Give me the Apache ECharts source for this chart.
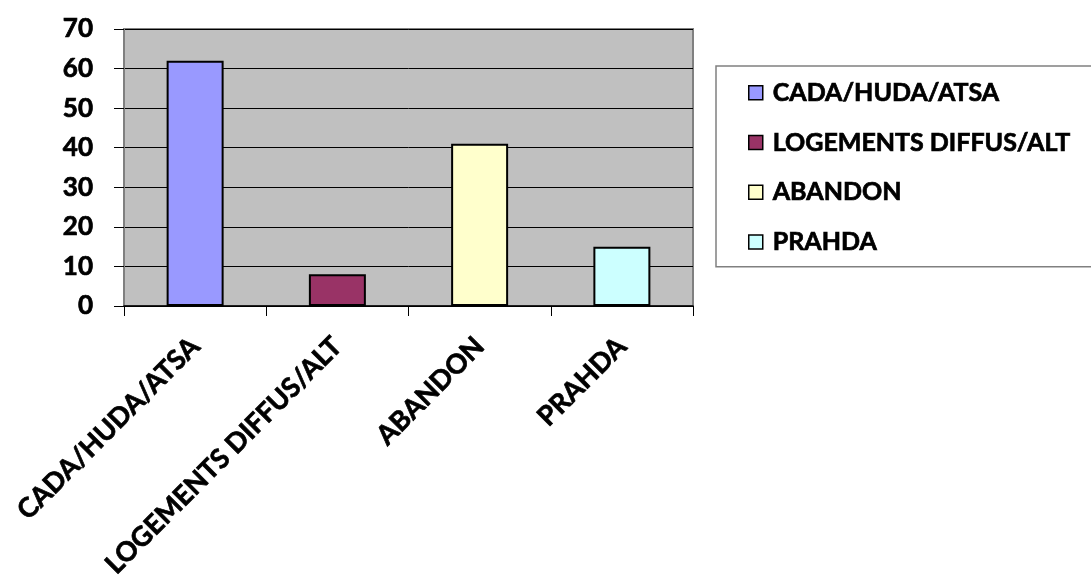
<!DOCTYPE html>
<html>
<head>
<meta charset="utf-8">
<script src="https://cdn.jsdelivr.net/npm/echarts@6/dist/echarts.min.js"></script>
<style>
  html, body { margin: 0; padding: 0; background: #fff; }
  #chart { width: 1091px; height: 579px; }
</style>
</head>
<body>
<div id="chart"></div>
<script>
// Categories, values and fill colours of the bars
const categories = ['CADA/HUDA/ATSA', 'LOGEMENTS DIFFUS/ALT', 'ABANDON', 'PRAHDA'];
const values = [62, 8, 41, 15];
const colors = ['#9999FF', '#993366', '#FFFFCC', '#CCFFFF'];
const yTicks = [0, 10, 20, 30, 40, 50, 60, 70];

const FONT = 'Lato, "Open Sans", sans-serif';
// heavy bold text: bold weight plus a thin outline in the same colour
const textBase = {
  fontFamily: FONT, fontWeight: 'bold', color: '#000',
  textBorderColor: '#000', textBorderWidth: 0.7
};

// One series per category so that each bar gets its own legend entry
const series = categories.map((name, i) => ({
  name: name,
  type: 'bar',
  stack: 'all',
  barWidth: 57,
  data: categories.map((c, j) => (j === i ? values[i] : null)),
  itemStyle: { color: colors[i], borderColor: '#000', borderWidth: 2 }
}));

const chart = echarts.init(document.getElementById('chart'), null, { renderer: 'canvas' });
chart.setOption({
  animation: false,
  backgroundColor: '#fff',
  grid: {
    left: 124, right: 398, top: 29, bottom: 273,
    outerBoundsMode: 'none',
    containLabel: false,
    show: true, backgroundColor: '#C0C0C0', borderColor: '#808080', borderWidth: 2
  },
  legend: {
    orient: 'vertical',
    left: 716, top: 66,
    padding: [14, 30, 12, 32],
    itemGap: 24,
    itemWidth: 14, itemHeight: 14,
    icon: 'rect',
    borderColor: '#808080', borderWidth: 1.5,
    backgroundColor: '#fff',
    itemStyle: { borderColor: '#000', borderWidth: 1.5 },
    textStyle: Object.assign({}, textBase, { fontSize: 25, padding: [0, 0, 0, 5] }),
    data: categories
  },
  xAxis: {
    type: 'category',
    data: categories,
    axisLine: { lineStyle: { color: '#000', width: 1.5 } },
    axisTick: { show: true, length: 10, lineStyle: { color: '#000' } },
    axisLabel: Object.assign({}, textBase, {
      rotate: 45, margin: 36, interval: 0, fontSize: 27
    }),
    splitLine: { show: false }
  },
  yAxis: {
    type: 'value',
    min: yTicks[0], max: yTicks[yTicks.length - 1], interval: 10,
    axisLine: { show: true, lineStyle: { color: '#808080', width: 2 } },
    axisTick: { show: true, length: 10, lineStyle: { color: '#000' } },
    axisLabel: Object.assign({}, textBase, { margin: 31, fontSize: 26 }),
    splitLine: { show: true, lineStyle: { color: '#000', width: 1 } }
  },
  series: series
});
</script>
</body>
</html>
